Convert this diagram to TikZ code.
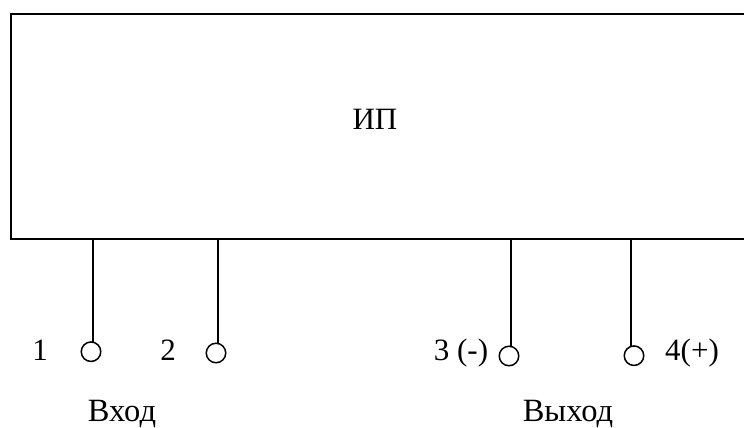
\documentclass[tikz,border=0pt]{standalone}
\usepackage{fontspec}
\setmainfont{Liberation Serif}
\begin{document}
\begin{tikzpicture}[x=1pt,y=-1pt,
  lbl/.style={inner sep=0pt,anchor=base,font=\fontsize{31}{36}\selectfont,text=black},
  big/.style={lbl,font=\fontsize{32.5}{38}\selectfont},
  term/.style={circle,draw=black,line width=1.5pt,minimum size=19.5pt,inner sep=0pt},
  wire/.style={draw=black,line width=1.6pt}]
\useasboundingbox[fill=white] (0,0) rectangle (744,428);
\draw[wire] (744,14) -- (11,14) -- (11,239) -- (744,239);
\node[lbl] (title) at (375,129) {ИП};
\node[term] (t1) at (91,351.7) {};
\node[term] (t2) at (216,353) {};
\node[term] (t3) at (509,356) {};
\node[term] (t4) at (634,355.7) {};
\coordinate (a1) at (93,239);
\coordinate (a2) at (218,239);
\coordinate (a3) at (511,239);
\coordinate (a4) at (631,239);
\draw[wire] (a1) -- (93,342);
\draw[wire] (a2) -- (218,344);
\draw[wire] (a3) -- (511,346.5);
\draw[wire] (a4) -- (631,346);
\node[lbl] (n1) at (40,360) {1};
\node[lbl] (n2) at (168,360) {2};
\node[lbl] (n3) at (461,360) {3 (-)};
\node[lbl] (n4) at (692,360) {4(+)};
\node[big] (in) at (122,421.5) {Вход};
\node[big] (out) at (568,421.5) {Выход};
\end{tikzpicture}
\end{document}
